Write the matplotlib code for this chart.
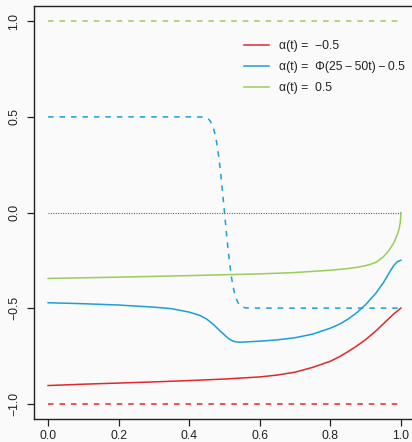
import matplotlib
matplotlib.use("Agg")
import matplotlib.pyplot as plt

# ---- data ----
t_red = [0, 0.1, 0.2, 0.3, 0.4, 0.5, 0.6, 0.65, 0.7, 0.75, 0.8, 0.825, 0.85, 0.875, 0.9,
         0.93, 0.96, 0.98, 1.0]
y_red = [-0.905, -0.898, -0.892, -0.886, -0.879, -0.871, -0.86, -0.85, -0.835, -0.81,
         -0.778, -0.755, -0.728, -0.698, -0.665, -0.618, -0.565, -0.53, -0.5]

t_blue = [0, 0.1, 0.2, 0.3, 0.35, 0.4, 0.43, 0.45, 0.47, 0.49, 0.51, 0.52, 0.53, 0.54, 0.55,
          0.6, 0.65, 0.7, 0.75, 0.8, 0.825, 0.85, 0.875, 0.9, 0.93, 0.95, 0.97, 0.98, 0.99, 1.0]
y_blue = [-0.472, -0.477, -0.484, -0.495, -0.503, -0.521, -0.538, -0.558, -0.588, -0.624,
          -0.657, -0.669, -0.676, -0.678, -0.678, -0.673, -0.666, -0.655, -0.636, -0.605,
          -0.585, -0.558, -0.524, -0.482, -0.42, -0.368, -0.306, -0.277, -0.257, -0.25]

t_green = [0, 0.2, 0.4, 0.6, 0.7, 0.8, 0.85, 0.875, 0.9, 0.915, 0.93, 0.95, 0.96, 0.97, 0.98,
           0.99, 0.995, 0.998, 0.9995, 1.0]
y_green = [-0.345, -0.338, -0.33, -0.321, -0.314, -0.302, -0.293, -0.287, -0.278, -0.27,
           -0.26, -0.232, -0.212, -0.188, -0.158, -0.115, -0.085, -0.055, -0.025, 0.0]

t_alpha = [0, 0.42, 0.44, 0.45, 0.455, 0.46, 0.465, 0.47, 0.475, 0.48, 0.485, 0.49, 0.495, 0.5,
           0.505, 0.51, 0.515, 0.52, 0.525, 0.53, 0.535, 0.54, 0.545, 0.55, 0.56, 0.58, 1.0]
y_alpha = [0.5, 0.5, 0.499, 0.494, 0.488, 0.477, 0.459, 0.433, 0.394, 0.341, 0.271, 0.191, 0.097, 0.0,
           -0.097, -0.191, -0.271, -0.341, -0.394, -0.433, -0.459, -0.477, -0.488, -0.494, -0.499, -0.5, -0.5]

t_const = [0, 1]
y_const_red = [-1.0, -1.0]
y_const_green = [1.0, 1.0]
y_zero = [0.0, 0.0]

legend_labels = ["α(t) =  −0.5", "α(t) =  Φ(25\u2009−\u200950t)\u2009−\u20090.5", "α(t) =  0.5"]
xticks = [0.0, 0.2, 0.4, 0.6, 0.8, 1.0]
yticks = [-1.0, -0.5, 0.0, 0.5, 1.0]

RED = "#E0282C"
BLUE = "#1A9FD6"
GREEN = "#9BCB5B"
BG = "#FAFAFA"

plt.rcParams['font.family'] = ['Liberation Sans', 'DejaVu Sans']

fig = plt.figure(figsize=(4.12, 4.42), dpi=100, facecolor=BG)
ax = fig.add_axes([34/412, 23/442, 381/412, 413/442], facecolor=BG)

dash = (0, (3.6, 3.9))
lw = 1.1
ax.plot(t_const, y_const_green, color=GREEN, lw=lw, linestyle=dash)
ax.plot(t_const, y_const_red, color=RED, lw=lw, linestyle=dash)
ax.plot(t_alpha, y_alpha, color=BLUE, lw=lw, linestyle=dash)
ax.plot(t_const, y_zero, color="#444444", lw=0.8, linestyle=(0, (0.8, 1.4)))

l1, = ax.plot(t_red, y_red, color=RED, lw=lw)
l2, = ax.plot(t_blue, y_blue, color=BLUE, lw=lw)
l3, = ax.plot(t_green, y_green, color=GREEN, lw=lw)

ax.set_xlim(-0.04, 1.04)
ax.set_ylim(-1.08, 1.08)
ax.set_xticks(xticks)
ax.set_xticklabels([f"{v:.1f}" for v in xticks])
ax.set_yticks(yticks)
ax.set_yticklabels([f"{v:.1f}".replace("-", "\u2212") for v in yticks], rotation=90, va="center")

for s in ["left", "bottom", "top", "right"]:
    ax.spines[s].set_color("#222222")
    ax.spines[s].set_linewidth(1.0)

ax.tick_params(axis="both", length=5.2, width=0.9, color="#222222", labelsize=8.8, labelcolor="#222222")
ax.tick_params(axis="x", pad=2.5)
ax.tick_params(axis="y", pad=4.5)

leg = fig.legend([l1, l2, l3], legend_labels, loc="upper left",
                 bbox_to_anchor=(238/412, 1 - 34/442), frameon=False,
                 fontsize=8.8, handlelength=2.0, handletextpad=0.85,
                 labelspacing=0.75, borderpad=0)
for txt in leg.get_texts():
    txt.set_color("#222222")

fig.savefig("out.png", dpi=100, facecolor=BG)
